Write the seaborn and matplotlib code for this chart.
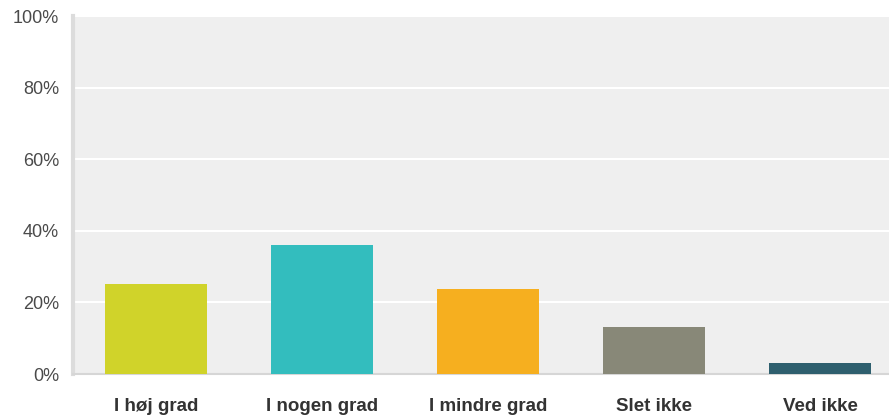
import matplotlib
matplotlib.use("Agg")
import matplotlib.pyplot as plt
import seaborn as sns
import pandas as pd

categories = ["I høj grad", "I nogen grad", "I mindre grad", "Slet ikke", "Ved ikke"]
shares = [25.1, 36.0, 23.8, 13.2, 3.2]
colors = ["#D0D32A", "#33BDBE", "#F6AF1F", "#888878", "#2E5F6E"]
yticks = [0, 20, 40, 60, 80, 100]
ytick_labels = ["0%", "20%", "40%", "60%", "80%", "100%"]

df = pd.DataFrame({"answer": categories, "share": shares})

sns.set_theme(style="white")
plt.rcParams["font.family"] = ["Liberation Sans", "DejaVu Sans"]

fig = plt.figure(figsize=(8.89, 4.15), dpi=100)
ax = fig.add_axes([73 / 889, 41 / 415, 830 / 889, 358 / 415])

sns.barplot(data=df, x="answer", y="share", hue="answer", palette=colors,
            width=0.61, legend=False, ax=ax, saturation=1, zorder=3,
            linewidth=0, edgecolor="none")

ax.set_facecolor("#EFEFEF")
ax.set_xlim(-0.5, 4.5)
ax.set_ylim(0, 100)
ax.set_yticks(yticks)
ax.set_yticklabels(ytick_labels)
ax.yaxis.grid(True, color="white", linewidth=1.5, zorder=0)
ax.set_axisbelow(True)
ax.set_xlabel("")
ax.set_ylabel("")

for side in ["top", "right"]:
    ax.spines[side].set_visible(False)
ax.spines["left"].set_color("#DCDCDC")
ax.spines["left"].set_linewidth(3)
ax.spines["bottom"].set_color("#D6D6D6")
ax.spines["bottom"].set_linewidth(1.5)

ax.tick_params(axis="y", length=0, pad=10, labelsize=13, labelcolor="#4A4A4A")
ax.tick_params(axis="x", length=0, pad=17, labelsize=13.5, labelcolor="#333333")
for lbl in ax.get_xticklabels():
    lbl.set_fontweight("bold")

fig.savefig("out.png", dpi=100)
